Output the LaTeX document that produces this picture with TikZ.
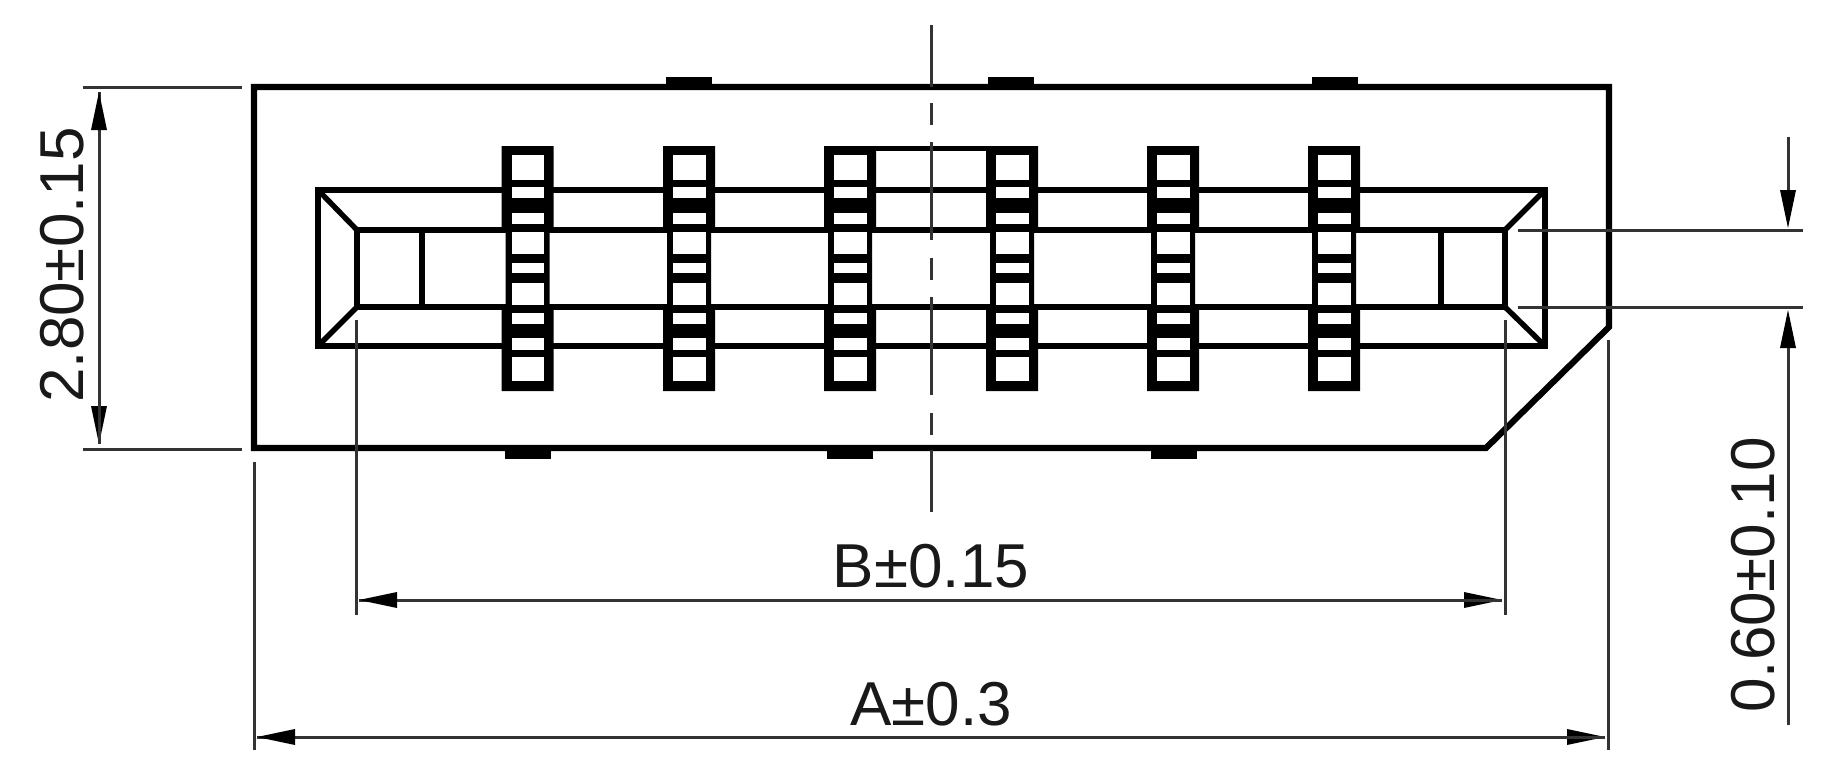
\documentclass[tikz,border=0pt]{standalone}
\usepackage{fontspec}
\setmainfont{Liberation Sans}
\usetikzlibrary{arrows.meta}
\newcommand{\pinbody}[1]{%
  \begin{scope}[xshift=#1pt]
    \fill[black] (-26,-146) -- (26,-146) -- (26,-231) -- (22,-231) -- (22,-308) -- (26,-308) -- (26,-391) -- (-26,-391) -- (-26,-308) -- (-22,-308) -- (-22,-231) -- (-26,-231) -- cycle;
    \foreach \a/\b in {155/180,187/198,213/224,232/254,263/273,283/305,313/324,338/350,357/381}
      \fill[white] (-16,-\a) rectangle (16.5,-\b);
  \end{scope}}
\tikzset{
  x=1pt,y=1pt,
  heavy/.style={line width=6.2pt,line cap=butt,line join=miter},
  mid/.style={line width=5.4pt,line join=miter},
  thin/.style={line width=3pt,draw=black!80},
  dimtip/.style={-{Triangle[length=38pt,width=16pt,fill=black,color=black,line width=0pt]},draw=black!80,line width=3pt},
  tab/.style={fill=black,draw=none},
  dimtext/.style={font=\fontsize{62}{62}\selectfont,text=black!90,inner sep=0pt}
}
\begin{document}
\begin{tikzpicture}
\useasboundingbox (0,0) rectangle (1826,-771);
\fill[white] (0,0) rectangle (1826,-771);
% key points
\coordinate (TL) at (254,-87);
\coordinate (TR) at (1609,-87);
\coordinate (CR) at (1609,-327);
\coordinate (CB) at (1486,-448);
\coordinate (BL) at (254,-448);
% outline
\draw[heavy] (TL) -- (TR) -- (CR) -- (CB) -- (BL) -- cycle;
\foreach \c in {689,1011,1335}
  \fill[tab] (\c-23,-77) rectangle (\c+23,-88);
\foreach \c in {528,850,1174}
  \fill[tab] (\c-23,-447) rectangle (\c+23,-459);
% cavity
\coordinate (oTL) at (318,-190);
\coordinate (oTR) at (1545,-190);
\coordinate (oBR) at (1545,-346);
\coordinate (oBL) at (318,-346);
\coordinate (iTL) at (357,-230);
\coordinate (iTR) at (1505,-230);
\coordinate (iBR) at (1505,-307);
\coordinate (iBL) at (357,-307);
\draw[mid] (oTL) -- (oTR) -- (oBR) -- (oBL) -- cycle;
\draw[mid] (iTL) -- (iTR) -- (iBR) -- (iBL) -- cycle;
\draw[mid] (oTL) -- (iTL) (oTR) -- (iTR) (oBR) -- (iBR) (oBL) -- (iBL);
\coordinate (vLt) at (422,-230); \coordinate (vLb) at (422,-307);
\coordinate (vRt) at (1441,-230); \coordinate (vRb) at (1441,-307);
\draw[mid] (vLt) -- (vLb) (vRt) -- (vRb);
% bridge between the two middle pins
\coordinate (br1) at (870,-148.5); \coordinate (br2) at (992,-148.5);
\draw[mid] (br1) -- (br2);
% pins
\foreach \c in {527.5,689,850,1012,1173,1334} {\pinbody{\c}}
% centre line
\foreach \a/\b in {25/87,103/125,142/240,258/280,297/395,413/435,450/512}
  \draw[thin] (931,-\a) -- (931,-\b);
% dimension 2.80
\coordinate (e1a) at (83,-87); \coordinate (e1b) at (242,-87);
\coordinate (e2a) at (83,-449); \coordinate (e2b) at (242,-449);
\draw[thin] (e1a) -- (e1b); \draw[thin] (e2a) -- (e2b);
\coordinate (d1a) at (99,-92); \coordinate (d1b) at (99,-444);
\draw[dimtip] (d1a) -- (d1b);
\draw[dimtip] (d1b) -- (d1a);
\node[dimtext,rotate=90] (t280) at (62,-265) {2.80±0.15};
% dimension B
\coordinate (b1a) at (356,-320); \coordinate (b1b) at (356,-615);
\coordinate (b2a) at (1505,-320); \coordinate (b2b) at (1505,-615);
\draw[thin] (b1a) -- (b1b); \draw[thin] (b2a) -- (b2b);
\coordinate (d2a) at (359,-600); \coordinate (d2b) at (1502,-600);
\draw[dimtip] (d2a) -- (d2b);
\draw[dimtip] (d2b) -- (d2a);
\node[dimtext] (tB) at (931,-566) {B±0.15};
% dimension A
\coordinate (a1a) at (254,-462); \coordinate (a1b) at (254,-750);
\coordinate (a2a) at (1608,-340); \coordinate (a2b) at (1608,-750);
\draw[thin] (a1a) -- (a1b); \draw[thin] (a2a) -- (a2b);
\coordinate (d3a) at (257,-737); \coordinate (d3b) at (1605,-737);
\draw[dimtip] (d3a) -- (d3b);
\draw[dimtip] (d3b) -- (d3a);
\node[dimtext] (tA) at (931,-704) {A±0.3};
% dimension 0.60
\coordinate (f1a) at (1518,-230); \coordinate (f1b) at (1803,-230);
\coordinate (f2a) at (1518,-307); \coordinate (f2b) at (1803,-307);
\draw[thin] (f1a) -- (f1b); \draw[thin] (f2a) -- (f2b);
\coordinate (g1a) at (1788,-137); \coordinate (g1b) at (1788,-228);
\coordinate (g2a) at (1788,-725); \coordinate (g2b) at (1788,-310);
\draw[dimtip] (g1a) -- (g1b);
\draw[dimtip] (g2a) -- (g2b);
\node[dimtext,rotate=90] (t060) at (1753,-575) {0.60±0.10};
\end{tikzpicture}
\end{document}
